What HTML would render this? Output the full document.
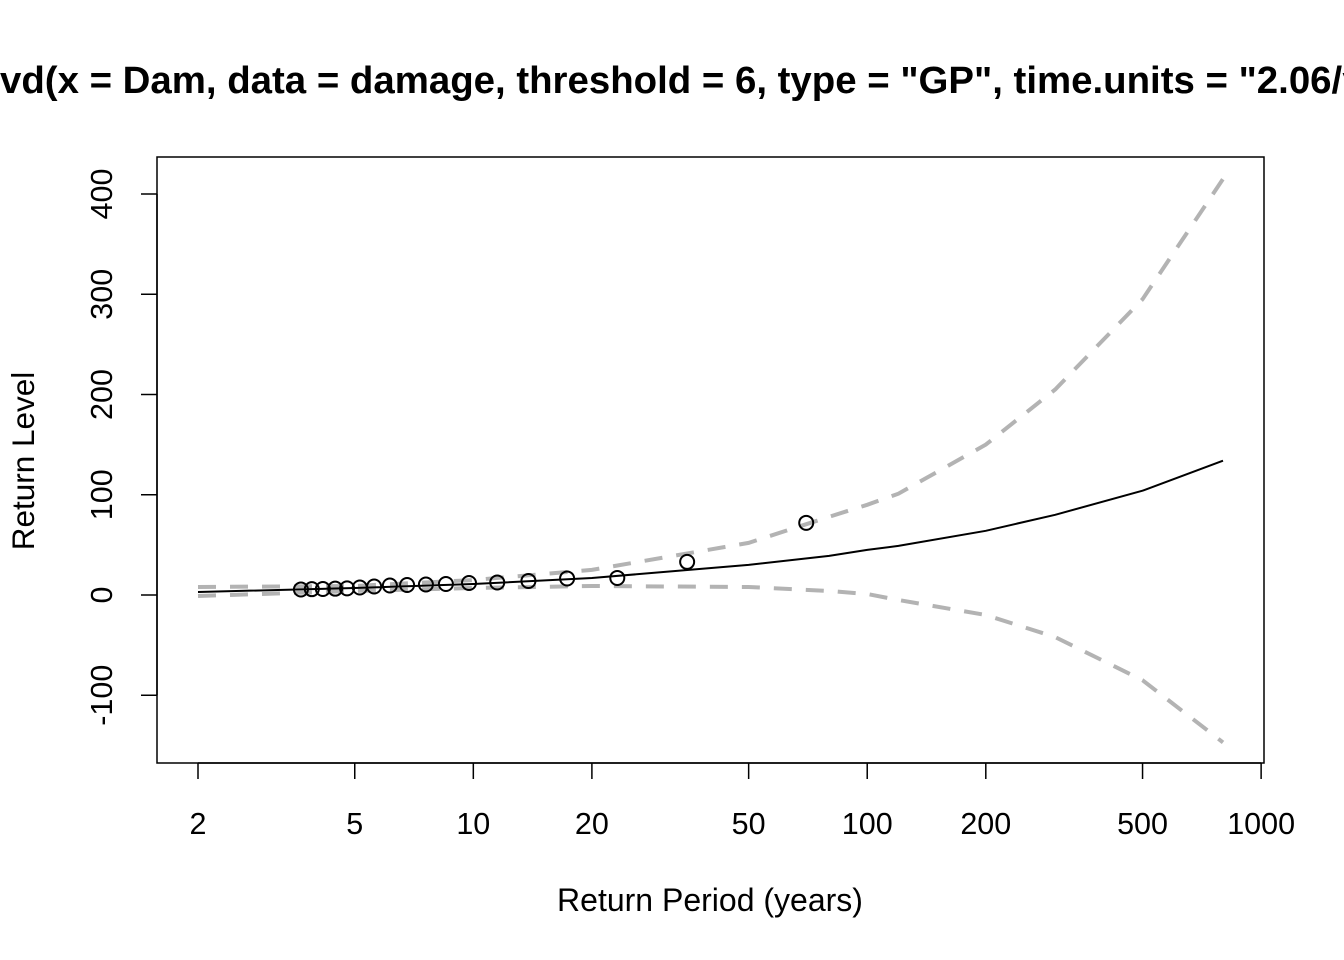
<!DOCTYPE html>
<html><head><meta charset="utf-8"><style>
html,body{margin:0;padding:0;background:#fff;}
svg{display:block;font-family:"Liberation Sans",Arial,sans-serif;}
</style></head><body>
<svg id="chart" width="1344" height="960" viewBox="0 0 1344 960">
<text x="709" y="93" text-anchor="middle" font-size="38.4" font-weight="bold">fevd(x = Dam, data = damage, threshold = 6, type = "GP", time.units = "2.06/year")</text>
<rect x="157" y="157" width="1107" height="606" fill="none" stroke="#000" stroke-width="1.5"/>
<g id="xaxis"></g>
<g id="yaxis"></g>
<text x="710" y="911" text-anchor="middle" font-size="32">Return Period (years)</text>
<text transform="translate(34,461) rotate(-90)" text-anchor="middle" font-size="31.5">Return Level</text>
<g id="series"></g>
</svg>
<script>
const xTicks=[2,5,10,20,50,100,200,500,1000];
const yTicks=[-100,0,100,200,300,400];
const curvePeriods=[2,5,10,20,50,80,100,120,200,300,500,800];
const curveLevels=[3,7,11,17,30,39,45,49,64,80,104,134];
const upperCI=[8,9,15,25,52,78,90,101,150,205,295,415];
const lowerCI=[-1,4,7,9,8,4,1,-5,-20,-42,-85,-147];
const pointPeriods=[3.65,3.89,4.15,4.46,4.78,5.15,5.6,6.14,6.79,7.58,8.52,9.75,11.5,13.8,17.3,23.2,34.9,70];
const pointLevels=[5.5,5.8,6,6.3,6.6,7.5,8.5,9.5,10,10.5,11,12,12.5,14,16.5,17,33,72];

const NS="http://www.w3.org/2000/svg";
const X=p=>198+(Math.log10(p)-Math.log10(2))*393.9;
const Y=v=>595-v*1.0025;
function mk(tag,attrs,parent){const e=document.createElementNS(NS,tag);for(const k in attrs)e.setAttribute(k,attrs[k]);parent.appendChild(e);return e;}
const xa=document.getElementById('xaxis'),ya=document.getElementById('yaxis'),sr=document.getElementById('series');
mk('line',{x1:X(2),x2:X(1000),y1:763,y2:763,stroke:'#000','stroke-width':1.5},xa);
xTicks.forEach(t=>{
 const l=mk('line',{x1:X(t),x2:X(t),y1:763,y2:779,stroke:'#000','stroke-width':1.5},xa);
 
 
 const tx=mk('text',{x:X(t),y:834,'text-anchor':'middle','font-size':30.5},xa);tx.textContent=t;
 
 
});
mk('line',{x1:157,x2:157,y1:Y(-100),y2:Y(400),stroke:'#000','stroke-width':1.5},ya);
yTicks.forEach(t=>{
 const l=mk('line',{x1:141,x2:157,y1:Y(t),y2:Y(t),stroke:'#000','stroke-width':1.5},ya);
 
 
 const tx=mk('text',{transform:`translate(112,${Y(t)}) rotate(-90)`,'text-anchor':'middle','font-size':30.5},ya);tx.textContent=t;
 
 
});
function line(vals,attrs,name){
 const d=curvePeriods.map((p,i)=>(i?'L':'M')+X(p).toFixed(1)+','+Y(vals[i]).toFixed(1)).join('');
 const e=mk('path',Object.assign({d,fill:'none'},attrs),sr);
 
 
}
line(upperCI,{stroke:'#b3b3b3','stroke-width':4,'stroke-dasharray':'18 14'},'upper-ci-line');
line(lowerCI,{stroke:'#b3b3b3','stroke-width':4,'stroke-dasharray':'18 14'},'lower-ci-line');
line(curveLevels,{stroke:'#000','stroke-width':2},'return-level-line');
pointPeriods.forEach((p,i)=>{
 const c=mk('circle',{cx:X(p),cy:Y(pointLevels[i]),r:7,fill:'none',stroke:'#000','stroke-width':2},sr);
 
 
});
</script>
</body></html>
